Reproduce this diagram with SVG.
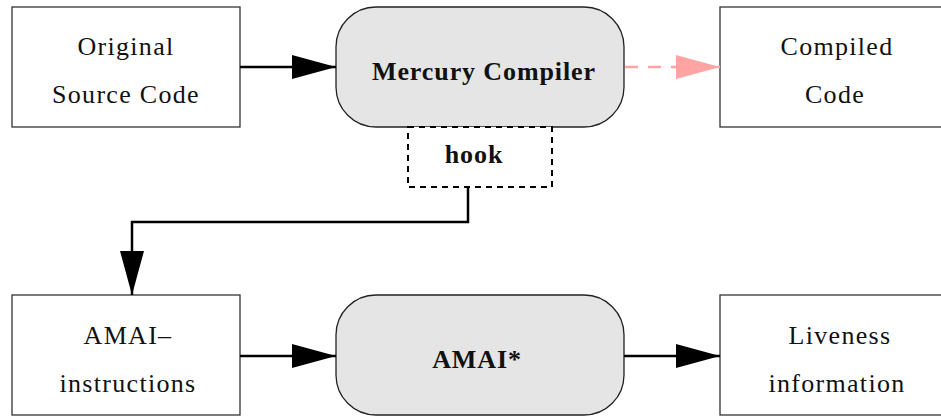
<svg xmlns="http://www.w3.org/2000/svg" width="941" height="418" viewBox="0 0 941 418">
  <style>
    .box { fill: #ffffff; stroke: #333333; stroke-width: 1.3; }
    .proc { fill: #e5e5e5; stroke: #222222; stroke-width: 1.3; }
    .hook { fill: #ffffff; stroke: #000000; stroke-width: 2; stroke-dasharray: 6 5; }
    .lbl { font-family: "Liberation Serif", "DejaVu Serif", serif; font-size: 26px; letter-spacing: 1.3px; fill: #111111; text-anchor: middle; }
    .bold { font-weight: bold; letter-spacing: 0.9px; }
    .edge { fill: none; stroke: #000000; stroke-width: 2.5; }
    .pink { fill: none; stroke: #ffa3a3; stroke-width: 2.5; stroke-dasharray: 13 10; }
  </style>
  <defs>
    <marker id="head" markerUnits="userSpaceOnUse" markerWidth="44" markerHeight="24" refX="44" refY="12" orient="auto">
      <path d="M0,0 L44,12 L0,24 Z" fill="#000000"/>
    </marker>
    <marker id="headPink" markerUnits="userSpaceOnUse" markerWidth="44" markerHeight="24" refX="44" refY="12" orient="auto">
      <path d="M0,0 L44,12 L0,24 Z" fill="#ffa3a3"/>
    </marker>
  </defs>

  <g id="source">
    <rect class="box" x="12" y="7" width="228" height="120"/>
    <text class="lbl" x="126" y="55">Original</text>
    <text class="lbl" x="126" y="103">Source Code</text>
  </g>

  <g id="compiler">
    <rect class="proc" x="336" y="7" width="288" height="120" rx="40" ry="40"/>
    <text class="lbl bold" x="484" y="80">Mercury Compiler</text>
  </g>

  <g id="compiled">
    <rect class="box" x="720" y="7" width="240" height="120"/>
    <text class="lbl" x="837" y="55">Compiled</text>
    <text class="lbl" x="835" y="103">Code</text>
  </g>

  <g id="hook">
    <rect class="hook" x="408" y="127" width="144" height="60"/>
    <text class="lbl bold" x="474" y="163">hook</text>
  </g>

  <g id="instructions">
    <rect class="box" x="12" y="295" width="228" height="120"/>
    <text class="lbl" x="128" y="344">AMAI–</text>
    <text class="lbl" x="128" y="392">instructions</text>
  </g>

  <g id="amai">
    <rect class="proc" x="336" y="295" width="288" height="120" rx="40" ry="40"/>
    <text class="lbl bold" x="477" y="368">AMAI*</text>
  </g>

  <g id="liveness">
    <rect class="box" x="720" y="295" width="240" height="120"/>
    <text class="lbl" x="840" y="344">Liveness</text>
    <text class="lbl" x="837" y="392">information</text>
  </g>

  <g id="connectors">
    <line class="edge" x1="240" y1="67" x2="336" y2="67" marker-end="url(#head)"/>
    <line class="pink" x1="625" y1="67" x2="720" y2="67" marker-end="url(#headPink)"/>
    <polyline class="edge" points="468,187 468,222 132,222 132,295" marker-end="url(#head)"/>
    <line class="edge" x1="240" y1="356" x2="336" y2="356" marker-end="url(#head)"/>
    <line class="edge" x1="624" y1="356" x2="720" y2="356" marker-end="url(#head)"/>
  </g>
</svg>
